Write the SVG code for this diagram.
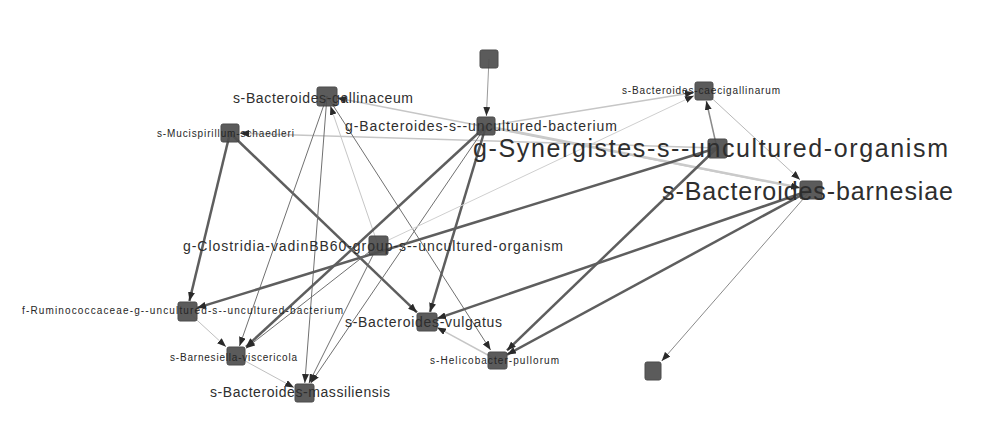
<svg xmlns="http://www.w3.org/2000/svg" width="988" height="425" viewBox="0 0 988 425">
<defs>
<style>
.e{fill:none;marker-end:url(#ah)}
.k{stroke:#5e5e5e;stroke-width:2.5}
.t{stroke:#707070;stroke-width:1}
.l{stroke:#c6c6c6;stroke-width:1.5}
.n{fill:#4e4e4e;stroke:#3c3c3c;stroke-width:1;opacity:0.92}
.lb{font-family:"Liberation Sans",Arial,sans-serif;fill:#2e2e2e}
.s{font-size:10px;fill:#262626}
.m{font-size:14px}
.b{font-size:25px}
</style>
<marker id="ah" markerUnits="userSpaceOnUse" markerWidth="9" markerHeight="7" refX="9" refY="3.5" orient="auto">
<path d="M0,0 L9,3.5 L0,7 z" fill="#2a2a2a"/>
</marker>
</defs>
<rect width="988" height="425" fill="#ffffff"/>
<g id="edges">
<line class="e" x1="489" y1="59" x2="486.4" y2="116" stroke="#9a9a9a" stroke-width="1"/>
<line class="e k" x1="230" y1="133" x2="189.4" y2="301"/>
<line class="e k" x1="230" y1="133" x2="417" y2="312.4"/>
<line class="e l" x1="717" y1="148" x2="240" y2="133.3"/>
<line class="e l" x1="811" y1="190" x2="337" y2="97.9"/>
<line class="e t" x1="327" y1="96" x2="239.5" y2="346"/>
<line class="e t" x1="327" y1="96" x2="304.8" y2="383"/>
<line class="e t" x1="327" y1="96" x2="490.6" y2="350"/>
<line class="e" x1="378" y1="245" x2="330.4" y2="106" stroke="#c6c6c6" stroke-width="1"/>
<line class="e k" x1="486" y1="126" x2="246" y2="346.8"/>
<line class="e t" x1="486" y1="126" x2="310.8" y2="383" stroke-width="1.2"/>
<line class="e k" x1="486" y1="126" x2="430" y2="312"/>
<line class="e l" x1="486" y1="126" x2="694" y2="92.6"/>
<line class="e" x1="378" y1="245" x2="694" y2="95.7" stroke="#cfcfcf" stroke-width="1"/>
<line class="e" x1="717" y1="148" x2="706.3" y2="101" stroke="#8a8a8a" stroke-width="1.5"/>
<line class="e" x1="704" y1="91" x2="800" y2="179.8" stroke="#b8b8b8" stroke-width="1"/>
<line class="e" x1="486" y1="126" x2="800" y2="187.8" stroke="#cacaca" stroke-width="2.5"/>
<line class="e k" x1="717" y1="148" x2="197" y2="307.9"/>
<line class="e k" x1="717" y1="148" x2="507" y2="350.4" stroke-width="2"/>
<line class="e k" x1="811" y1="190" x2="437" y2="318.6" stroke-width="3"/>
<line class="e k" x1="811" y1="190" x2="507" y2="354.6" stroke-width="3"/>
<line class="e" x1="811" y1="190" x2="661.7" y2="361" stroke="#8a8a8a" stroke-width="1"/>
<line class="e l" x1="497" y1="360" x2="437" y2="327.4"/>
<line class="e" x1="187" y1="311" x2="226" y2="346.8" stroke="#c0c0c0" stroke-width="1"/>
<line class="e" x1="236" y1="356" x2="294" y2="387.6" stroke="#c0c0c0" stroke-width="1"/>
<line class="e t" x1="378" y1="245" x2="309" y2="383"/>
<line class="e t" x1="378" y1="245" x2="246" y2="348.2"/>
</g>
<g id="n-top"><rect class="n" x="480" y="50" width="18" height="18" rx="2"/></g>
<g id="n-gallinaceum"><rect class="n" x="317" y="87" width="20" height="19" rx="2"/><text class="lb m" x="233" y="103" textLength="180" lengthAdjust="spacing">s-Bacteroides-gallinaceum</text></g>
<g id="n-mucispirillum"><rect class="n" x="221" y="124" width="18" height="18" rx="2"/><text class="lb s" x="157" y="137" textLength="137" lengthAdjust="spacing">s-Mucispirillum-schaedleri</text></g>
<g id="n-bact-uncultured"><rect class="n" x="477" y="117" width="18" height="18" rx="2"/><text class="lb m" x="345" y="131" textLength="272" lengthAdjust="spacing">g-Bacteroides-s--uncultured-bacterium</text></g>
<g id="n-caecigallinarum"><rect class="n" x="695" y="82" width="18" height="18" rx="2"/><text class="lb s" x="622" y="94" textLength="158" lengthAdjust="spacing">s-Bacteroides-caecigallinarum</text></g>
<g id="n-synergistes"><rect class="n" x="708" y="139" width="19" height="19" rx="2"/><text class="lb b" x="473" y="157" textLength="475" lengthAdjust="spacing">g-Synergistes-s--uncultured-organism</text></g>
<g id="n-barnesiae"><rect class="n" x="800" y="181" width="22" height="18" rx="2"/><text class="lb b" x="662" y="200" textLength="291" lengthAdjust="spacing">s-Bacteroides-barnesiae</text></g>
<g id="n-clostridia"><rect class="n" x="369" y="236" width="19" height="19" rx="2"/><text class="lb m" x="183" y="251" textLength="380" lengthAdjust="spacing">g-Clostridia-vadinBB60-group-s--uncultured-organism</text></g>
<g id="n-ruminococcaceae"><rect class="n" x="178" y="302" width="19" height="19" rx="2"/><text class="lb s" x="22" y="314" textLength="321" lengthAdjust="spacing">f-Ruminococcaceae-g--uncultured-s--uncultured-bacterium</text></g>
<g id="n-barnesiella"><rect class="n" x="227" y="347" width="18" height="18" rx="2"/><text class="lb s" x="170" y="361" textLength="127" lengthAdjust="spacing">s-Barnesiella-viscericola</text></g>
<g id="n-massiliensis"><rect class="n" x="295" y="384" width="19" height="18" rx="2"/><text class="lb m" x="210" y="397" textLength="180" lengthAdjust="spacing">s-Bacteroides-massiliensis</text></g>
<g id="n-vulgatus"><rect class="n" x="417" y="313" width="20" height="18" rx="2"/><text class="lb m" x="345" y="327" textLength="157" lengthAdjust="spacing">s-Bacteroides-vulgatus</text></g>
<g id="n-helicobacter"><rect class="n" x="488" y="352" width="19" height="17" rx="2"/><text class="lb s" x="430" y="364" textLength="129" lengthAdjust="spacing">s-Helicobacter-pullorum</text></g>
<g id="n-bottom-right"><rect class="n" x="645" y="362" width="16" height="18" rx="2"/></g>
</svg>
